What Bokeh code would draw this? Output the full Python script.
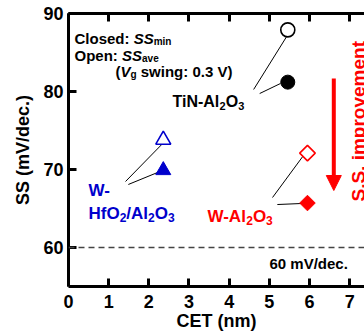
import math
from bokeh.plotting import figure
from bokeh.models import (LinearAxis, FixedTicker, Label, Span, Arrow, NormalHead, Range1d)
from bokeh.embed import file_html
from bokeh.resources import INLINE

# ---------------- data ----------------
series = ["TiN-Al2O3", "W-HfO2/Al2O3", "W-Al2O3"]
colors = ["black", "#0000CC", "#FF0000"]
cet = [5.46, 2.36, 5.95]          # nm
ss_min = [81.2, 69.9, 65.7]       # closed symbols (mV/dec.)
ss_ave = [87.9, 73.8, 72.1]       # open symbols (mV/dec.)
markers = ["circle", "triangle", "square"]
x_ticks = [0, 1, 2, 3, 4, 5, 6, 7]
y_ticks = [60, 70, 80, 90]
ideal_ss = 60

# leader lines (data units) from symbols to their labels
lead_x0 = [5.48, 5.28, 2.37, 2.22, 5.85, 5.80]
lead_y0 = [87.44, 81.03, 73.46, 69.62, 71.79, 65.64]
lead_x1 = [4.61, 4.76, 1.42, 1.49, 5.08, 5.20]
lead_y1 = [80.26, 79.74, 68.46, 68.08, 66.41, 65.51]

# ---------------- layout ----------------
X_END = 7.37
W_FIG, H_FIG = 364, 336
BL, BT = 68, 13
FH = 273
BB = H_FIG - BT - FH
FW = W_FIG - BL
SX = FW / X_END
SY = FH / 35.0
FONT = "Liberation Sans"

def dx(px):  # picture px -> data x
    return (px - BL) / SX

def dy(py):  # picture px -> data y
    return 90 - (py - BT) / SY

p = figure(width=W_FIG, height=H_FIG, output_backend="svg", toolbar_location=None,
           x_range=Range1d(0, X_END), y_range=Range1d(55, 90),
           min_border_left=BL, min_border_right=0, min_border_top=BT,
           min_border_bottom=BB)
p.outline_line_color = None
p.xgrid.grid_line_color = None
p.ygrid.grid_line_color = None
p.background_fill_color = "white"

def style_axis(ax, standoff=5):
    ax.axis_line_width = 3
    ax.axis_line_color = "black"
    ax.major_tick_line_width = 3
    ax.major_tick_in = 8
    ax.major_tick_out = 0
    ax.minor_tick_line_color = None
    ax.major_label_text_font = FONT
    ax.major_label_text_font_style = "bold"
    ax.major_label_text_font_size = "18px"
    ax.major_label_standoff = standoff
    ax.major_label_text_color = "black"
    ax.axis_label_text_font = FONT
    ax.axis_label_text_font_style = "bold"
    ax.axis_label_text_font_size = "18px"
    ax.axis_label_text_color = "black"

xa = p.xaxis[0]
ya = p.yaxis[0]
xa.ticker = FixedTicker(ticks=x_ticks)
ya.ticker = FixedTicker(ticks=y_ticks)
style_axis(xa, 8)
style_axis(ya, 5)
xa.axis_label = "CET (nm)"
xa.axis_label_standoff = 0
ya.axis_label = "SS (mV/dec.)"
ya.axis_label_standoff = 7

top = LinearAxis(ticker=FixedTicker(ticks=x_ticks))
style_axis(top, 0)
top.major_label_overrides = {t: "" for t in x_ticks}
p.add_layout(top, "above")

# dashed 60 mV/dec. line
p.add_layout(Span(location=ideal_ss, dimension="width", line_color="#444444",
                  line_width=1.5, line_dash="6 4"))

# leader lines
p.segment(x0=lead_x0, y0=lead_y0, x1=lead_x1, y1=lead_y1, line_color="black", line_width=1)

# symbols
for i in range(3):
    ang = math.pi / 4 if markers[i] == "square" else 0
    sz = 11 if markers[i] == "square" else 15 if markers[i] == "triangle" else 14
    p.scatter([cet[i]], [ss_ave[i]], marker=markers[i], size=sz, angle=ang,
              fill_color="white", line_color=colors[i], line_width=1.6)
    p.scatter([cet[i]], [ss_min[i]], marker=markers[i], size=sz, angle=ang,
              fill_color=colors[i], line_color=colors[i], line_width=1)

# ---------------- text helpers ----------------
WID = {' ': 278, '(': 333, ')': 333, '-': 333, '.': 278, '/': 278, ':': 333,
       'A': 722, 'C': 722, 'E': 667, 'H': 722, 'N': 722, 'O': 778, 'S': 667, 'T': 611,
       'V': 667, 'W': 944, 'a': 556, 'c': 556, 'd': 611, 'e': 556, 'f': 333, 'g': 611,
       'i': 278, 'l': 278, 'm': 889, 'n': 611, 'o': 611, 'p': 611, 'r': 389, 's': 556,
       't': 333, 'v': 556, 'w': 778}

def tw(s, size):
    return sum(WID.get(c, 556) for c in s) / 1000.0 * size

def runs(items, x0, base, color="black", angle=0.0):
    """items: (text, size, style, baseline shift px)"""
    pos = x0
    sign = 1 if angle == 0 else -1
    for text, size, style, shift in items:
        lead = len(text) - len(text.lstrip(" "))
        pos += sign * tw(" " * lead, size)
        body = text.strip(" ")
        if angle == 0:
            lx, ly = dx(pos), dy(base + shift)
        else:
            lx, ly = dx(base + shift), dy(pos)
        p.add_layout(Label(x=lx, y=ly, text=body, text_font=FONT,
                           text_font_style=style, text_font_size=f"{size}px",
                           text_color=color, text_align="left",
                           text_baseline="alphabetic", angle=angle))
        pos += sign * tw(text.lstrip(" "), size)

B, BI = "bold", "bold italic"
# legend note
runs([("Closed: ", 15, B, 0), ("SS", 15, BI, 0), ("min", 10, B, 3)], 74, 38)
runs([("Open: ", 15, B, 0), ("SS", 15, BI, 0), ("ave", 10, B, 3)], 74, 55)
runs([("(", 15, B, 0), ("V", 15, BI, 0), ("g", 10, B, 3), (" swing: 0.3 V)", 15, B, 0)], 115, 71)

# series labels
runs([("TiN-Al", 16, B, 0), ("2", 11, B, 4), ("O", 16, B, 0), ("3", 11, B, 4)], 172, 101)
runs([("W-", 17, B, 0)], 88, 190, color=colors[1])
runs([("HfO", 17, B, 0), ("2", 12, B, 4), ("/Al", 17, B, 0), ("2", 12, B, 4),
      ("O", 17, B, 0), ("3", 12, B, 4)], 88, 213, color=colors[1])
runs([("W-Al", 17, B, 0), ("2", 12, B, 4), ("O", 17, B, 0), ("3", 12, B, 4)],
     207, 216, color=colors[2])
runs([("60 mV/dec.", 15, B, 0)], 269, 263)

# S.S. improvement arrow
p.add_layout(Arrow(end=NormalHead(size=15, fill_color="#FF0000", line_color="#FF0000"),
                   x_start=dx(333.3), y_start=dy(78), x_end=dx(333.3), y_end=dy(190),
                   line_color="#FF0000", line_width=4))
runs([("S.S. improvement", 19, B, 0)], 201, 358, color="#FF0000", angle=math.pi / 2)

open("out.html", "w").write(file_html(p, INLINE))
